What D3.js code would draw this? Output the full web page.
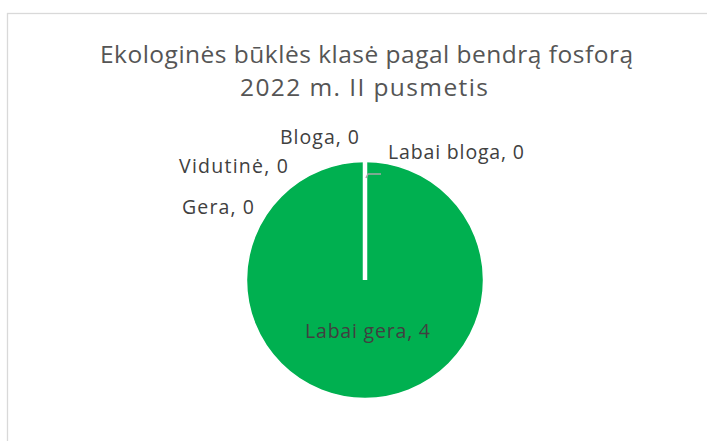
<!DOCTYPE html>
<html>
<head>
<meta charset="utf-8">
<script src="https://cdn.jsdelivr.net/npm/d3@7"></script>
<style>
  html, body { margin: 0; padding: 0; background: #fff; overflow: hidden; }
  svg { display: block; }
  text { font-variant-ligatures: none; }
</style>
</head>
<body>
<svg></svg>
<script>
// chart data
const categories = ['Labai gera', 'Gera', 'Vidutinė', 'Bloga', 'Labai bloga'];
const values = [4, 0, 0, 0, 0];
const titleLines = ['Ekologinės būklės klasė pagal bendrą fosforą', '2022 m. II pusmetis'];

// layout (pixels, relative to pie centre for labels)
const W = 707, H = 441;
const cx = 365, cy = 280, radius = 118.5;
const labelLayout = [
  { dx: -60, dy: 58, w: 125 },
  { dx: -183, dy: -66, w: 72 },
  { dx: -186, dy: -107, w: 109 },
  { dx: -85, dy: -136, w: 79 },
  { dx: 23, dy: -121, w: 136, leader: [[1, -102], [3, -106], [16, -106]] }
];
const titleLayout = [
  { x: 100, y: 63, w: 533 },
  { x: 240, y: 96, w: 248 }
];
const fontFamily = '"Open Sans", Lato, sans-serif';

const svg = d3.select('svg').attr('width', W).attr('height', H);

svg.append('rect')
  .attr('x', 7.5).attr('y', 13.5)
  .attr('width', 740).attr('height', 460)
  .attr('fill', '#fff')
  .attr('stroke', '#d9d9d9')
  .attr('stroke-width', 1.3);

svg.selectAll('text.title').data(titleLines)
  .enter().append('text')
  .attr('class', 'title')
  .attr('x', (d, i) => titleLayout[i].x)
  .attr('y', (d, i) => titleLayout[i].y)
  .attr('textLength', (d, i) => titleLayout[i].w)
  .attr('lengthAdjust', 'spacing')
  .attr('font-family', fontFamily)
  .attr('font-size', '24.5px')
  .attr('fill', '#555')
  .text(d => d);

const pieData = d3.pie().sort(null).value(d => d)(values);
const arc = d3.arc().innerRadius(0).outerRadius(radius);
const color = d3.scaleOrdinal().domain(categories)
  .range(['#00b050', '#92d050', '#ffff00', '#ffc000', '#ff0000']);

const g = svg.append('g').attr('transform', `translate(${cx},${cy})`);

g.selectAll('path.slice').data(pieData)
  .enter().append('path')
  .attr('class', 'slice')
  .attr('d', arc)
  .attr('fill', (d, i) => color(categories[i]))
  .attr('stroke', '#fff')
  .attr('stroke-width', 1.5);

// slice border at the start/end angle (zero slices sit there)
g.selectAll('line.sep').data(pieData.filter(d => d.value > 0))
  .enter().append('line')
  .attr('class', 'sep')
  .attr('x1', 0).attr('y1', 0)
  .attr('x2', d => radius * Math.sin(d.startAngle))
  .attr('y2', d => -radius * Math.cos(d.startAngle))
  .attr('stroke', '#fff')
  .attr('stroke-width', 4.5);

g.selectAll('path.leader').data(labelLayout.filter(d => d.leader))
  .enter().append('path')
  .attr('class', 'leader')
  .attr('d', d => d3.line()(d.leader))
  .attr('fill', 'none')
  .attr('stroke', '#a6a6a6')
  .attr('stroke-width', 1.5);

g.selectAll('text.label').data(pieData)
  .enter().append('text')
  .attr('class', 'label')
  .attr('x', (d, i) => labelLayout[i].dx)
  .attr('y', (d, i) => labelLayout[i].dy)
  .attr('textLength', (d, i) => labelLayout[i].w)
  .attr('lengthAdjust', 'spacing')
  .attr('font-family', fontFamily)
  .attr('font-size', '19.5px')
  .attr('fill', '#404040')
  .text((d, i) => `${categories[i]}, ${d.value}`);
</script>
</body>
</html>
